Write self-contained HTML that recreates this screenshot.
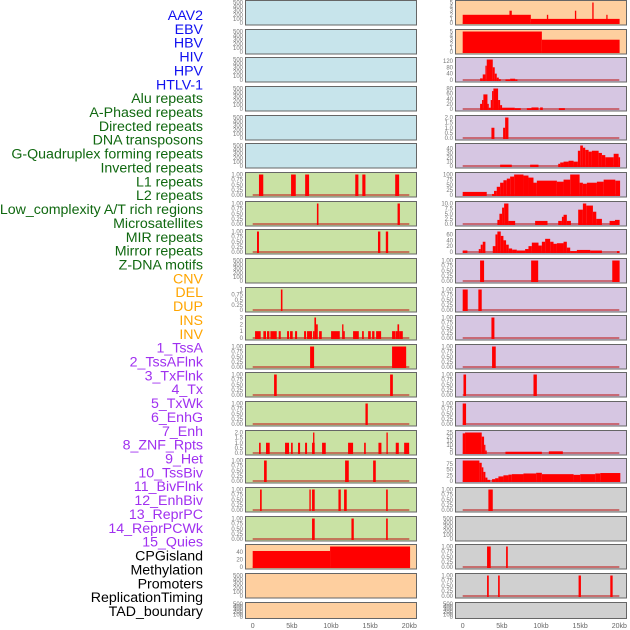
<!DOCTYPE html>
<html><head><meta charset="utf-8"><style>
html,body{margin:0;padding:0;background:#fff;width:630px;height:630px;overflow:hidden}
svg{display:block;font-family:"Liberation Sans",sans-serif}
</style></head><body>
<svg id="chart" width="630" height="630" viewBox="0 0 630 630" xmlns="http://www.w3.org/2000/svg"></svg>
<script>
const trackLabels=["AAV2","EBV","HBV","HIV","HPV","HTLV-1","Alu repeats","A-Phased repeats","Directed repeats","DNA transposons","G-Quadruplex forming repeats","Inverted repeats","L1 repeats","L2 repeats","Low_complexity A/T rich regions","Microsatellites","MIR repeats","Mirror repeats","Z-DNA motifs","CNV","DEL","DUP","INS","INV","1_TssA","2_TssAFlnk","3_TxFlnk","4_Tx","5_TxWk","6_EnhG","7_Enh","8_ZNF_Rpts","9_Het","10_TssBiv","11_BivFlnk","12_EnhBiv","13_ReprPC","14_ReprPCWk","15_Quies","CPGisland","Methylation","Promoters","ReplicationTiming","TAD_boundary"];
const labelGroups=[6,13,5,15,5];
const groupColors=["#1010f0","#106810","#ffa500","#a030f0","#000000"];
const xTickVals=[0,5,10,15,20];
const xTickText=["0","5kb","10kb","15kb","20kb"];
const leftKinds=["b","b","b","b","b","b","g","g","g","g","g","g","g","g","g","g","g","g","g","o","o","o"];
const rightKinds=["o","o","p","p","p","p","p","p","p","p","p","p","p","p","p","p","p","g2","g2","g2","g2","g2"];
const T01=[0,0.25,0.5,0.75,1];
const T500=[0,100,200,300,400,500];
// left column data: [startKb, endKb, value]
const L06=[[0.8,1.35,1],[4.9,5.5,1],[6.7,7.2,1],[13.1,13.5,1],[14.0,14.4,1],[18.2,18.7,1]];
const L07=[[8.2,8.4,1],[18.5,18.8,1]];
const L08=[[0.55,0.8,1],[16.0,16.3,1],[17.0,17.3,1]];
const L10=[[3.6,3.8,1]];
const L11=[[0.3,1.02,1],[1.36,1.7,1],[1.83,2.13,1],[2.26,3.07,1],[3.32,3.58,1],[4.39,4.64,1],[4.77,5.11,1],[5.41,5.67,1],[6.56,6.82,1],[6.94,7.58,1],[7.71,7.88,1],[7.88,8.09,3],[8.09,8.31,2],[8.48,8.82,1],[10.01,11.12,1],[11.42,11.59,2],[11.59,11.76,1],[12.82,13.55,1],[13.97,14.19,1],[14.74,15.08,1],[15.25,15.55,1],[15.76,16.4,1],[17.8,18.19,1],[18.23,18.49,1],[18.49,18.7,2],[18.7,19.17,1]];
const L12=[[7.33,7.84,1],[17.8,19.6,1]];
const L13=[[2.73,3.07,1],[17.55,17.9,1]];
const L14=[[14.4,14.7,1]];
const L15=[[0.81,1.02,1],[1.7,2.17,1],[4.13,4.64,1],[4.9,5.11,1],[5.79,6.05,1],[6.69,6.94,1],[7.58,7.92,1],[7.71,7.88,2],[8.86,9.33,1],[12.18,12.82,1],[14.23,14.44,1],[16.06,16.44,1],[17.08,17.25,2],[18.27,18.66,1],[19.34,19.98,1]];
const L16=[[1.45,1.79,1],[11.8,12.27,1],[15.38,15.72,1]];
const L17=[[0.94,1.15,1],[7.24,7.41,1],[7.58,7.92,1],[10.95,11.25,1],[11.67,12.01,1],[17.04,17.25,1]];
const L18=[[7.58,7.92,1],[12.61,12.91,1],[17.04,17.25,1]];
const L19=[[0,9.88,43],[9.88,20.1,55]];
// right column data
const R00=[[0,8.7,2],[8.7,20.04,1],[5.97,6.27,3],[10.75,10.92,2],[14.33,14.5,3],[16.55,16.72,5],[18.34,18.5,2]];
const R01=[[0,10.11,5],[10.11,20.04,3]];
const R02=[[2.22,2.56,10],[2.56,2.9,35],[2.9,3.07,90],[3.07,3.84,129],[3.84,4.09,80],[4.09,4.35,40],[4.35,4.61,15],[4.61,4.86,5],[5.46,6.06,3],[6.06,6.7,8],[6.7,6.99,3]];
const R03=[[2.22,2.47,20],[2.47,2.64,35],[2.64,3.16,57],[3.16,3.33,20],[3.33,3.58,5],[3.58,3.75,35],[3.75,3.92,70],[3.92,4.52,80],[4.52,4.78,35],[4.78,5.03,15],[5.03,6.65,5],[6.65,7.42,3],[8.19,8.78,3],[8.78,9.68,6],[9.89,10.23,6],[12.28,13.05,3]];
const R04=[[3.67,4.05,1],[5.16,5.42,1],[5.42,5.84,2]];
const R05=[[4.78,6.27,3],[8.61,9.68,3],[12.2,12.45,5],[12.45,12.88,8],[12.88,13.52,10],[13.52,14.16,12],[14.16,14.71,10],[14.71,15.01,35],[15.01,15.35,47],[15.35,15.65,42],[15.65,16.08,37],[16.08,16.5,33],[16.5,17.36,35],[17.36,17.78,30],[17.78,18.21,25],[18.21,19.28,20],[19.28,19.91,28],[19.91,20.1,20]];
const R06=[[0,3.07,15],[3.75,4.0,5],[4.0,4.35,20],[4.35,4.78,40],[4.78,5.2,60],[5.2,5.63,72],[5.63,6.06,80],[6.06,6.57,90],[6.57,7.76,100],[7.76,8.4,95],[8.4,9.04,85],[9.04,9.47,60],[9.47,12.03,70],[12.03,12.88,65],[12.88,13.73,75],[13.73,14.93,100],[14.93,15.35,60],[15.35,15.86,55],[15.86,17.14,60],[17.14,18.0,65],[18.0,19.49,75],[19.49,20.1,70]];
const R07=[[4.43,4.69,2],[4.69,5.03,5],[5.03,5.29,8],[5.29,5.84,10],[5.84,6.7,1.5],[9.25,10.83,1.5],[12.2,12.67,1.5],[12.67,12.88,3.5],[12.88,13.3,4.5],[13.3,13.82,1.5],[14.75,15.35,7],[15.35,15.78,10],[15.78,16.63,9],[16.63,17.06,6],[17.06,17.78,2.5],[18.76,19.45,1.5],[19.45,20.04,2]];
const R08=[[0,0.6,5],[2.05,2.3,10],[2.3,2.56,25],[2.56,2.9,35],[3.84,4.18,20],[4.18,4.43,60],[4.43,4.86,70],[4.86,5.2,55],[5.2,5.54,40],[5.54,5.88,25],[5.88,6.31,12],[6.31,6.91,8],[6.91,7.97,5],[7.97,8.4,10],[8.4,8.83,20],[8.83,9.68,32],[9.68,10.11,22],[10.11,10.53,35],[10.53,11.17,45],[11.17,11.6,35],[11.6,12.03,28],[12.03,12.88,30],[12.88,13.3,35],[13.3,13.73,15],[13.73,14.58,3],[14.58,16.29,7],[16.29,17.78,5],[19.7,20.04,3]];
const R09=[[2.22,2.73,1],[8.74,9.64,1],[19.1,20.04,1]];
const R10=[[0,0.64,1],[2.0,2.43,1]];
const R11=[[3.67,4.05,1]];
const R12=[[3.75,4.22,1]];
const R13=[[0.1,0.43,1],[9.04,9.47,1]];
const R14=[[0,0.43,1]];
const R15=[[0,0.3,24],[0.3,2.43,25],[2.43,2.73,20],[2.73,2.9,10],[2.9,3.07,3],[5.46,10.11,1.5],[11.0,12.79,2]];
const R16=[[0,2.13,90],[2.13,2.43,80],[2.43,2.64,60],[2.64,2.9,40],[2.9,3.16,15],[3.16,3.5,5],[3.75,4.14,8],[4.14,4.56,12],[4.56,5.2,20],[5.2,5.84,25],[5.84,6.27,28],[6.27,7.76,30],[7.76,9.38,33],[9.38,10.11,36],[10.11,14.16,30],[14.16,15.01,27],[15.01,16.93,30],[16.93,17.57,33],[17.57,20.13,35]];
const R17=[[3.28,3.84,1]];
const R19=[[3.11,3.58,1],[5.54,5.76,1]];
const R20=[[3.11,3.33,1],[4.52,4.73,1],[14.8,15.1,1],[18.85,19.15,1]];
const leftData=[null,null,null,null,null,null,L06,L07,L08,null,L10,L11,L12,L13,L14,L15,L16,L17,L18,L19,null,null];
const rightData=[R00,R01,R02,R03,R04,R05,R06,R07,R08,R09,R10,R11,R12,R13,R14,R15,R16,R17,null,R19,R20,null];
const leftTicks=[T500,T500,T500,T500,T500,T500,T01,T01,T01,T500,T01,[0,1,2,3],T01,T01,T01,[0,0.5,1,1.5,2],T01,T01,T01,[0,20,40],T500,T500];
const rightTicks=[[0,1,2,3,4,5],[0,1,2,3,4,5],[0,40,80,120],[0,20,40,60,80],[0,0.5,1,1.5,2],[0,10,20,30,40],[0,25,50,75,100],[0,2.5,5,7.5,10],[0,20,40,60],T01,T01,T01,T01,T01,T01,[0,5,10,15,20,25],[0,25,50,75],T01,T500,T01,T01,T500];
const leftTickFmt=["i","i","i","i","i","i","2","2","2","i","i","i","2","2","2","1","2","2","2","i","i","i"];
const rightTickFmt=["i","i","i","i","1","i","i","1","i","2","2","2","2","2","2","i","i","2","i","2","2","i"];

const svg=document.getElementById('chart');
const NS="http://www.w3.org/2000/svg";
function mk(tag,attrs,parent){const e=document.createElementNS(NS,tag);for(const k in attrs)e.setAttribute(k,attrs[k]);(parent||svg).appendChild(e);return e;}
const bg={b:"#c7e4eb",g:"#c9e2a4",o:"#fecf9f",p:"#d6c6e2",g2:"#d0d0d0"};

// labels
let li=0;
labelGroups.forEach((n,g)=>{for(let k=0;k<n;k++){
  const t=mk('text',{x:203,y:15+li*13.86+5,'text-anchor':'end','font-size':'14.2',fill:groupColors[g]});
  t.textContent=trackLabels[li];
  
  
  li++;}});

function drawPanel(i,colX,kind,data,ticks,fmt,side){
  const top=Math.round(i*28.65)+0.5, h=(i===21?16:24.5), w=171;
  const g=mk('g',{});
  
  
  const r=mk('rect',{x:colX+0.5,y:top,width:w,height:h,fill:bg[kind],stroke:'#666','stroke-width':1},g);
  
  
  let D=500;
  if(data){D=0;data.forEach(s=>{if(s[2]>D)D=s[2];});}
  const x0=colX+7.7;
  const xs=kb=>x0+kb*7.83;
  const ys=v=>top+h-1-((v+0.05*D)/(1.1*D))*(h-2);
  if(data){
    const bl=mk('line',{x1:xs(0),x2:xs(20),y1:ys(0),y2:ys(0),stroke:'rgba(190,30,30,0.55)','stroke-width':2},g);
    
    
    data.forEach(s=>{
      const b=mk('rect',{x:xs(s[0]),y:ys(s[2]),width:Math.max(0.8,xs(s[1])-xs(s[0])),height:Math.max(0,ys(0)-ys(s[2])+1),fill:'#ff0000'},g);
      
      
    });
  }
  ticks.forEach(v=>{
    const t=mk('text',{x:colX-2,y:ys(v)+2,'text-anchor':'end','font-size':'6',fill:'#777'},g);
    t.textContent=fmt==="2"?v.toFixed(2):fmt==="1"?v.toFixed(1):String(v);
    
    
  });
}
for(let i=0;i<22;i++){
  drawPanel(i,245,leftKinds[i],leftData[i],leftTicks[i],leftTickFmt[i],'left');
  drawPanel(i,455,rightKinds[i],rightData[i],rightTicks[i],rightTickFmt[i],'right');
}
[245,455].forEach(cx=>{
  xTickVals.forEach((v,k)=>{
    const t=mk('text',{x:cx+7.7+v*7.83,y:628,'text-anchor':'middle','font-size':'7',fill:'#666'});
    t.textContent=xTickText[k];
    
    
  });
});
</script>
</body></html>
